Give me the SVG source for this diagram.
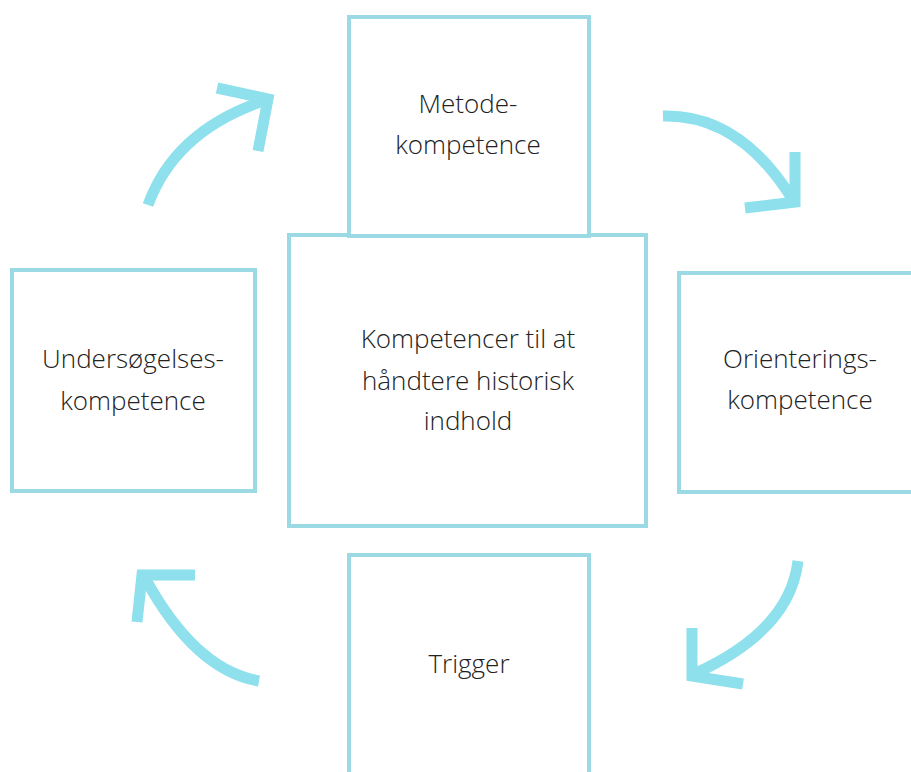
<svg xmlns="http://www.w3.org/2000/svg" width="911" height="772" viewBox="0 0 911 772">
<style>
.box{fill:#fff;stroke:#9BD9E4;stroke-width:4}
.lbl{font-family:"Open Sans","Liberation Sans",sans-serif;font-weight:300;font-size:26px;fill:#222;text-anchor:middle}
.arr{fill:none;stroke:#8DE0EC;stroke-width:11}
</style>
<rect width="911" height="772" fill="#fff"/>
<g id="node-center">
<rect class="box" x="289" y="235" width="357" height="291"/>
<text class="lbl" x="468" y="348">Kompetencer til at</text>
<text class="lbl" x="468" y="390">håndtere historisk</text>
<text class="lbl" x="468" y="430">indhold</text>
</g>
<g id="node-metode">
<rect class="box" x="349" y="17" width="240" height="219"/>
<text class="lbl" x="468" y="113">Metode-</text>
<text class="lbl" x="468" y="154">kompetence</text>
</g>
<g id="node-undersogelses">
<rect class="box" x="12" y="270" width="243" height="221"/>
<text class="lbl" x="133" y="368">Undersøgelses-</text>
<text class="lbl" x="133" y="410">kompetence</text>
</g>
<g id="node-orienterings">
<rect class="box" x="679" y="273" width="240" height="219"/>
<text class="lbl" x="800" y="368">Orienterings-</text>
<text class="lbl" x="800" y="409">kompetence</text>
</g>
<g id="node-trigger">
<rect class="box" x="349" y="555" width="240" height="230"/>
<text class="lbl" x="469" y="673">Trigger</text>
</g>
<g id="connectors">
<path class="arr" d="M148,205 Q175,130 266,100"/>
<path class="arr" d="M217,88 L268,99 L258,151"/>
<path class="arr" d="M663,116 Q740,114 793,200"/>
<path class="arr" d="M795,152 L795,202 L745,208"/>
<path class="arr" d="M798,561 Q790,630 696,673"/>
<path class="arr" d="M692,628 L692,676 L743,684"/>
<path class="arr" d="M259,681 Q195,670 145,578"/>
<path class="arr" d="M195,575 L142,575 L137,622"/>
</g>
</svg>
